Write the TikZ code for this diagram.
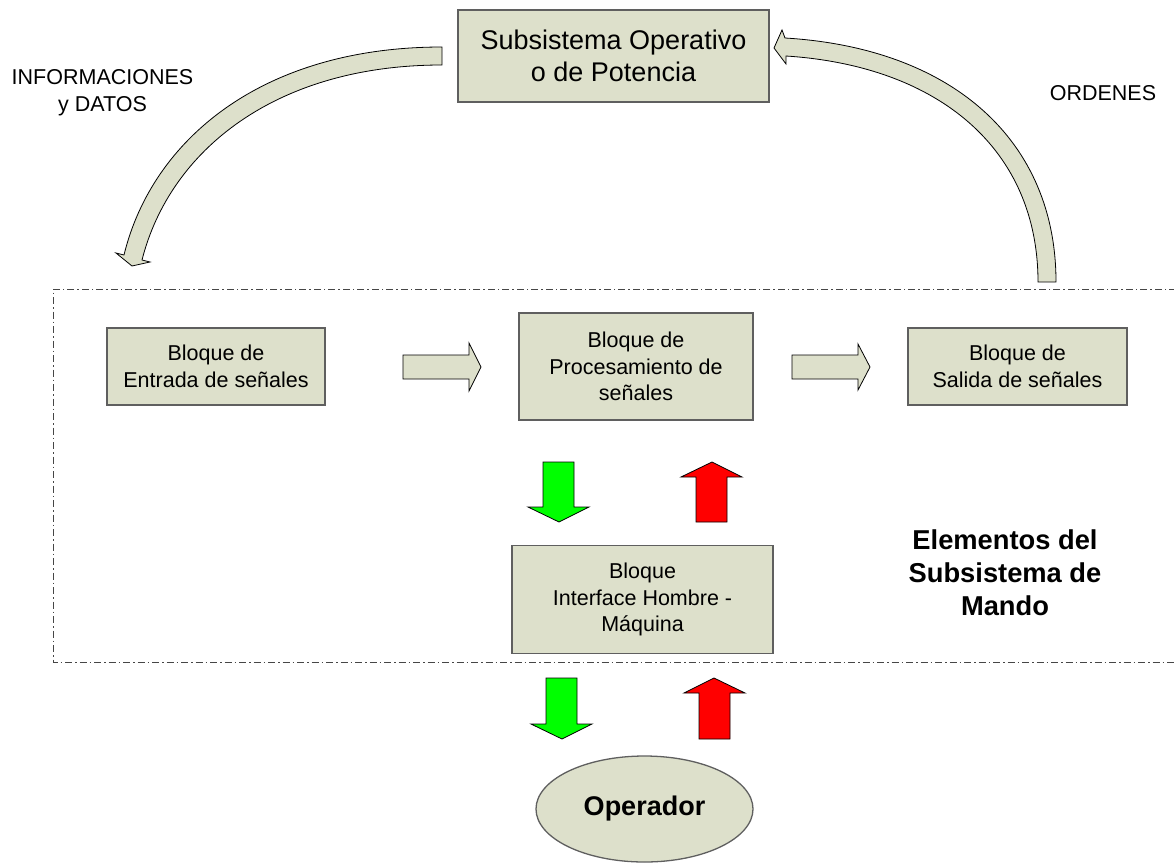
\documentclass[tikz,border=0pt]{standalone}
\usepackage{fontspec}
\setmainfont{Liberation Sans}
\usetikzlibrary{shapes.geometric}
\definecolor{boxfill}{RGB}{221,224,203}
\definecolor{boxline}{RGB}{95,95,95}
\definecolor{framec}{RGB}{70,70,70}
\definecolor{gfill}{RGB}{0,255,0}
\definecolor{rfill}{RGB}{255,0,0}
\tikzset{
  block/.style={draw=boxline, fill=boxfill, line width=1.3pt, align=center,
    inner sep=0pt, font=\fontsize{21.5}{26.5}\selectfont},
  bigblock/.style={block, font=\fontsize{27}{32}\selectfont},
  label/.style={align=center, inner sep=0pt, font=\fontsize{21.5}{27}\selectfont},
  boldlabel/.style={align=center, inner sep=0pt, font=\fontsize{27.3}{33}\selectfont\bfseries},
  blockarrow/.style={draw=black, fill=boxfill, line width=0.8pt, line join=miter},
  downarrow/.style={draw=black, fill=gfill, line width=0.8pt},
  uparrow/.style={draw=black, fill=rfill, line width=0.8pt},
  frame/.style={draw=framec, line width=0.9pt, dash pattern=on 7pt off 3pt on 1.5pt off 3pt}
}
\begin{document}
\begin{tikzpicture}[x=1pt,y=-1pt]
\useasboundingbox (0,0) rectangle (1174,862);

% dash-dot frame around the control subsystem (open on the right)
\draw[frame] (1176,289) -- (53,289) -- (53,662) -- (1176,662);

% blocks
\node[bigblock, minimum width=311pt, minimum height=92pt] (sub) at (613.5,56)
  {Subsistema Operativo\\o de Potencia};
\node[block, minimum width=218pt, minimum height=77pt] (ent) at (216,366.5)
  {Bloque de\\Entrada de señales};
\node[block, minimum width=234pt, minimum height=107pt] (pro) at (636,366.5)
  {Bloque de\\Procesamiento de\\señales};
\node[block, minimum width=219pt, minimum height=77pt] (sal) at (1017.5,366.5)
  {Bloque de\\Salida de señales};
\node[block, minimum width=261pt, minimum height=108pt] (hmi) at (642.5,599.5)
  {Bloque\\Interface Hombre -\\Máquina};
\node[draw=boxline, fill=boxfill, line width=1.3pt, ellipse, inner sep=0pt,
  minimum width=217pt, minimum height=106pt,
  font=\fontsize{27}{32}\selectfont\bfseries] (op) at (644.5,809) {Operador};

% free labels
\node[label] (info) at (102.5,93) {INFORMACIONES\\y DATOS};
\node[label] (ord) at (1103,93) {ORDENES};
\node[boldlabel] (elem) at (1005,573) {Elementos del\\Subsistema de\\Mando};

% curved arrow: informaciones y datos
\draw[blockarrow] (442,47) .. controls (262,47) and (152,140) .. (124,255)
  -- (116,253) -- (132,266) -- (150,262) -- (142,260)
  .. controls (170,150) and (276,65) .. (442,65) -- cycle;

% curved arrow: ordenes
\draw[blockarrow] (1056,282) .. controls (1056,140) and (952,48) .. (785,38)
  -- (782,30) -- (774,48) -- (786,64) -- (786,56)
  .. controls (940,66) and (1038,150) .. (1038,282) -- cycle;

% straight block arrows between the blocks
\draw[blockarrow] (403,355) -- (469,355) -- (469,343) -- (481,367)
  -- (469,391) -- (469,379) -- (403,379) -- cycle;
\draw[blockarrow] (792,355) -- (858,355) -- (858,344) -- (870,367)
  -- (858,390) -- (858,379) -- (792,379) -- cycle;

% processing <-> interface
\draw[downarrow] (543,462) -- (574,462) -- (574,507) -- (589,507)
  -- (559,522) -- (528,507) -- (543,507) -- cycle;
\draw[uparrow] (696,522) -- (727,522) -- (727,477) -- (742,477)
  -- (712,462) -- (681,477) -- (696,477) -- cycle;

% interface <-> operator
\draw[downarrow] (546,678) -- (577,678) -- (577,724) -- (592,724)
  -- (562,739) -- (531,724) -- (546,724) -- cycle;
\draw[uparrow] (699,739) -- (730,739) -- (730,693) -- (745,693)
  -- (714,678) -- (684,693) -- (699,693) -- cycle;
\end{tikzpicture}
\end{document}
